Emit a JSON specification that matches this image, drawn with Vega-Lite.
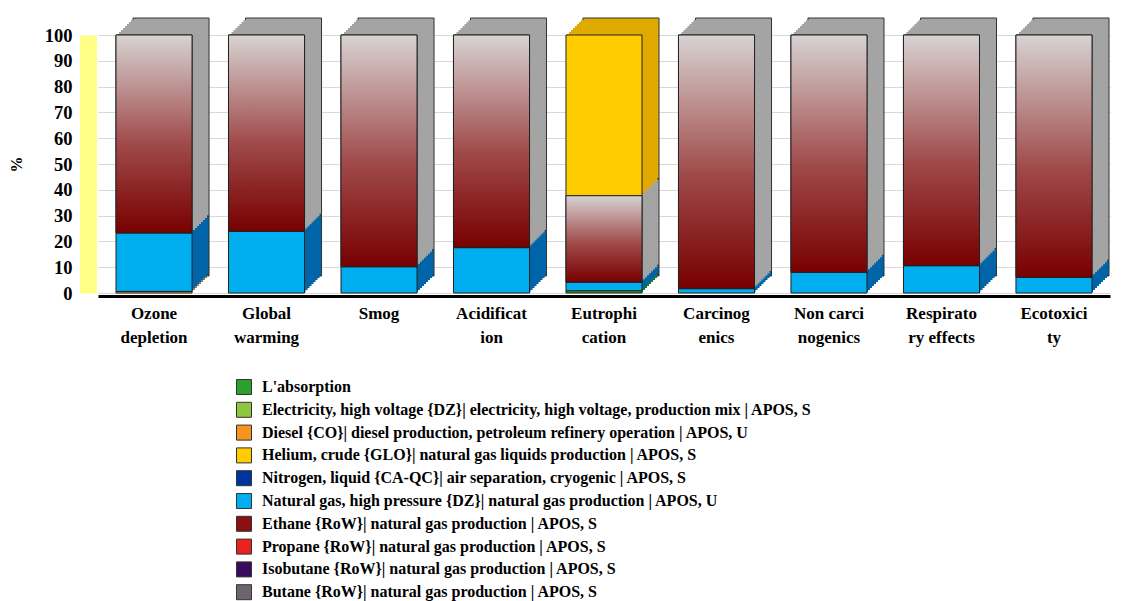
{
  "$schema": "https://vega.github.io/schema/vega-lite/v6.json",
  "autosize": "none",
  "width": 1012,
  "height": 258,
  "padding": {"left": 98, "top": 35, "right": 25, "bottom": 308},
  "background": "white",
  "config": {
    "font": "Liberation Serif",
    "view": {"stroke": null}
  },
  "data": {
    "values": [
      {"category": "Ozone depletion", "series": "Diesel {CO}| diesel production, petroleum refinery operation | APOS, U", "value": 0.6},
      {"category": "Ozone depletion", "series": "Natural gas, high pressure {DZ}| natural gas production | APOS, U", "value": 22.7},
      {"category": "Ozone depletion", "series": "Ethane {RoW}| natural gas production | APOS, S", "value": 76.7},
      {"category": "Global warming", "series": "Natural gas, high pressure {DZ}| natural gas production | APOS, U", "value": 23.9},
      {"category": "Global warming", "series": "Ethane {RoW}| natural gas production | APOS, S", "value": 76.1},
      {"category": "Smog", "series": "Natural gas, high pressure {DZ}| natural gas production | APOS, U", "value": 10.2},
      {"category": "Smog", "series": "Ethane {RoW}| natural gas production | APOS, S", "value": 89.8},
      {"category": "Acidification", "series": "Natural gas, high pressure {DZ}| natural gas production | APOS, U", "value": 17.6},
      {"category": "Acidification", "series": "Ethane {RoW}| natural gas production | APOS, S", "value": 82.4},
      {"category": "Eutrophication", "series": "L'absorption", "value": 0.9},
      {"category": "Eutrophication", "series": "Natural gas, high pressure {DZ}| natural gas production | APOS, U", "value": 3.3},
      {"category": "Eutrophication", "series": "Ethane {RoW}| natural gas production | APOS, S", "value": 33.5},
      {"category": "Eutrophication", "series": "Helium, crude {GLO}| natural gas liquids production | APOS, S", "value": 62.3},
      {"category": "Carcinogenics", "series": "Natural gas, high pressure {DZ}| natural gas production | APOS, U", "value": 1.7},
      {"category": "Carcinogenics", "series": "Ethane {RoW}| natural gas production | APOS, S", "value": 98.3},
      {"category": "Non carcinogenics", "series": "Natural gas, high pressure {DZ}| natural gas production | APOS, U", "value": 8.0},
      {"category": "Non carcinogenics", "series": "Ethane {RoW}| natural gas production | APOS, S", "value": 92.0},
      {"category": "Respiratory effects", "series": "Natural gas, high pressure {DZ}| natural gas production | APOS, U", "value": 10.6},
      {"category": "Respiratory effects", "series": "Ethane {RoW}| natural gas production | APOS, S", "value": 89.4},
      {"category": "Ecotoxicity", "series": "Natural gas, high pressure {DZ}| natural gas production | APOS, U", "value": 6.1},
      {"category": "Ecotoxicity", "series": "Ethane {RoW}| natural gas production | APOS, S", "value": 93.9}
    ]
  },
  "transform": [
    {"calculate": "indexof(['L\\'absorption','Electricity, high voltage {DZ}| electricity, high voltage, production mix | APOS, S','Diesel {CO}| diesel production, petroleum refinery operation | APOS, U','Nitrogen, liquid {CA-QC}| air separation, cryogenic | APOS, S','Natural gas, high pressure {DZ}| natural gas production | APOS, U','Ethane {RoW}| natural gas production | APOS, S','Propane {RoW}| natural gas production | APOS, S','Isobutane {RoW}| natural gas production | APOS, S','Butane {RoW}| natural gas production | APOS, S','Helium, crude {GLO}| natural gas liquids production | APOS, S'], datum.series)", "as": "stackOrder"},
    {"stack": "value", "groupby": ["category"], "sort": [{"field": "stackOrder", "order": "ascending"}], "as": ["y0", "y1"]}
  ],
  "encoding": {
    "x": {
      "field": "category", "type": "nominal", "sort": null,
      "scale": {"domain": ["Ozone depletion", "Global warming", "Smog", "Acidification", "Eutrophication", "Carcinogenics", "Non carcinogenics", "Respiratory effects", "Ecotoxicity"], "paddingInner": 0.324, "paddingOuter": 0.16},
      "axis": {
        "title": null, "labelAngle": 0, "ticks": false, "tickSize": 0,
        "domainColor": "#000000", "domainWidth": 3, "offset": 3,
        "labelFont": "Liberation Serif", "labelFontWeight": "bold", "labelFontSize": 17, "labelColor": "#000000",
        "labelLineHeight": 24, "labelPadding": 9, "labelBaseline": "top",
        "labelExpr": "datum.value == 'Ozone depletion' ? ['Ozone','depletion'] : datum.value == 'Global warming' ? ['Global','warming'] : datum.value == 'Acidification' ? ['Acidificat','ion'] : datum.value == 'Eutrophication' ? ['Eutrophi','cation'] : datum.value == 'Carcinogenics' ? ['Carcinog','enics'] : datum.value == 'Non carcinogenics' ? ['Non carci','nogenics'] : datum.value == 'Respiratory effects' ? ['Respirato','ry effects'] : datum.value == 'Ecotoxicity' ? ['Ecotoxici','ty'] : datum.value"
      }
    },
    "y": {
      "field": "y0", "type": "quantitative",
      "scale": {"domain": [0, 100], "nice": false},
      "axis": {
        "title": "%", "values": [0, 10, 20, 30, 40, 50, 60, 70, 80, 90, 100],
        "ticks": false, "tickSize": 0, "offset": 10,
        "domainColor": "#ffff88", "domainWidth": 17,
        "gridColor": "#d9d9d9", "grid": true,
        "labelFont": "Liberation Serif", "labelFontWeight": "bold", "labelFontSize": 18.5, "labelColor": "#000000", "labelPadding": 16,
        "titleFont": "Liberation Serif", "titleFontWeight": "bold", "titleFontSize": 16, "titleColor": "#000000", "titlePadding": 20
      }
    },
    "y2": {"field": "y1"}
  },
  "layer": [
    {"mark": {"type": "bar", "xOffset": 17, "yOffset": -17, "y2Offset": -17, "stroke": "#333333", "strokeWidth": 1},
     "encoding": {"fill": {"condition": [
       {"test": "datum.series == 'Ethane {RoW}| natural gas production | APOS, S'", "value": "#a4a4a4"},
       {"test": "datum.series == 'Natural gas, high pressure {DZ}| natural gas production | APOS, U'", "value": "#0065a8"},
       {"test": "datum.series == 'Helium, crude {GLO}| natural gas liquids production | APOS, S'", "value": "#e0aa00"},
       {"test": "datum.series == 'L\\'absorption'", "value": "#1e7a1e"},
       {"test": "datum.series == 'Diesel {CO}| diesel production, petroleum refinery operation | APOS, U'", "value": "#c07010"}
     ], "value": "#808080"}}},
    {"mark": {"type": "bar", "xOffset": 15, "yOffset": -15, "y2Offset": -15, "strokeWidth": 0},
     "encoding": {"fill": {"condition": [
       {"test": "datum.series == 'Ethane {RoW}| natural gas production | APOS, S'", "value": "#a4a4a4"},
       {"test": "datum.series == 'Natural gas, high pressure {DZ}| natural gas production | APOS, U'", "value": "#0065a8"},
       {"test": "datum.series == 'Helium, crude {GLO}| natural gas liquids production | APOS, S'", "value": "#e0aa00"},
       {"test": "datum.series == 'L\\'absorption'", "value": "#1e7a1e"},
       {"test": "datum.series == 'Diesel {CO}| diesel production, petroleum refinery operation | APOS, U'", "value": "#c07010"}
     ], "value": "#808080"}}},
    {"mark": {"type": "bar", "xOffset": 13, "yOffset": -13, "y2Offset": -13, "strokeWidth": 0},
     "encoding": {"fill": {"condition": [
       {"test": "datum.series == 'Ethane {RoW}| natural gas production | APOS, S'", "value": "#a4a4a4"},
       {"test": "datum.series == 'Natural gas, high pressure {DZ}| natural gas production | APOS, U'", "value": "#0065a8"},
       {"test": "datum.series == 'Helium, crude {GLO}| natural gas liquids production | APOS, S'", "value": "#e0aa00"},
       {"test": "datum.series == 'L\\'absorption'", "value": "#1e7a1e"},
       {"test": "datum.series == 'Diesel {CO}| diesel production, petroleum refinery operation | APOS, U'", "value": "#c07010"}
     ], "value": "#808080"}}},
    {"mark": {"type": "bar", "xOffset": 11, "yOffset": -11, "y2Offset": -11, "strokeWidth": 0},
     "encoding": {"fill": {"condition": [
       {"test": "datum.series == 'Ethane {RoW}| natural gas production | APOS, S'", "value": "#a4a4a4"},
       {"test": "datum.series == 'Natural gas, high pressure {DZ}| natural gas production | APOS, U'", "value": "#0065a8"},
       {"test": "datum.series == 'Helium, crude {GLO}| natural gas liquids production | APOS, S'", "value": "#e0aa00"},
       {"test": "datum.series == 'L\\'absorption'", "value": "#1e7a1e"},
       {"test": "datum.series == 'Diesel {CO}| diesel production, petroleum refinery operation | APOS, U'", "value": "#c07010"}
     ], "value": "#808080"}}},
    {"mark": {"type": "bar", "xOffset": 9, "yOffset": -9, "y2Offset": -9, "strokeWidth": 0},
     "encoding": {"fill": {"condition": [
       {"test": "datum.series == 'Ethane {RoW}| natural gas production | APOS, S'", "value": "#a4a4a4"},
       {"test": "datum.series == 'Natural gas, high pressure {DZ}| natural gas production | APOS, U'", "value": "#0065a8"},
       {"test": "datum.series == 'Helium, crude {GLO}| natural gas liquids production | APOS, S'", "value": "#e0aa00"},
       {"test": "datum.series == 'L\\'absorption'", "value": "#1e7a1e"},
       {"test": "datum.series == 'Diesel {CO}| diesel production, petroleum refinery operation | APOS, U'", "value": "#c07010"}
     ], "value": "#808080"}}},
    {"mark": {"type": "bar", "xOffset": 7, "yOffset": -7, "y2Offset": -7, "strokeWidth": 0},
     "encoding": {"fill": {"condition": [
       {"test": "datum.series == 'Ethane {RoW}| natural gas production | APOS, S'", "value": "#a4a4a4"},
       {"test": "datum.series == 'Natural gas, high pressure {DZ}| natural gas production | APOS, U'", "value": "#0065a8"},
       {"test": "datum.series == 'Helium, crude {GLO}| natural gas liquids production | APOS, S'", "value": "#e0aa00"},
       {"test": "datum.series == 'L\\'absorption'", "value": "#1e7a1e"},
       {"test": "datum.series == 'Diesel {CO}| diesel production, petroleum refinery operation | APOS, U'", "value": "#c07010"}
     ], "value": "#808080"}}},
    {"mark": {"type": "bar", "xOffset": 5, "yOffset": -5, "y2Offset": -5, "strokeWidth": 0},
     "encoding": {"fill": {"condition": [
       {"test": "datum.series == 'Ethane {RoW}| natural gas production | APOS, S'", "value": "#a4a4a4"},
       {"test": "datum.series == 'Natural gas, high pressure {DZ}| natural gas production | APOS, U'", "value": "#0065a8"},
       {"test": "datum.series == 'Helium, crude {GLO}| natural gas liquids production | APOS, S'", "value": "#e0aa00"},
       {"test": "datum.series == 'L\\'absorption'", "value": "#1e7a1e"},
       {"test": "datum.series == 'Diesel {CO}| diesel production, petroleum refinery operation | APOS, U'", "value": "#c07010"}
     ], "value": "#808080"}}},
    {"mark": {"type": "bar", "xOffset": 3, "yOffset": -3, "y2Offset": -3, "strokeWidth": 0},
     "encoding": {"fill": {"condition": [
       {"test": "datum.series == 'Ethane {RoW}| natural gas production | APOS, S'", "value": "#a4a4a4"},
       {"test": "datum.series == 'Natural gas, high pressure {DZ}| natural gas production | APOS, U'", "value": "#0065a8"},
       {"test": "datum.series == 'Helium, crude {GLO}| natural gas liquids production | APOS, S'", "value": "#e0aa00"},
       {"test": "datum.series == 'L\\'absorption'", "value": "#1e7a1e"},
       {"test": "datum.series == 'Diesel {CO}| diesel production, petroleum refinery operation | APOS, U'", "value": "#c07010"}
     ], "value": "#808080"}}},
    {"mark": {"type": "bar", "xOffset": 1, "yOffset": -1, "y2Offset": -1, "strokeWidth": 0},
     "encoding": {"fill": {"condition": [
       {"test": "datum.series == 'Ethane {RoW}| natural gas production | APOS, S'", "value": "#a4a4a4"},
       {"test": "datum.series == 'Natural gas, high pressure {DZ}| natural gas production | APOS, U'", "value": "#0065a8"},
       {"test": "datum.series == 'Helium, crude {GLO}| natural gas liquids production | APOS, S'", "value": "#e0aa00"},
       {"test": "datum.series == 'L\\'absorption'", "value": "#1e7a1e"},
       {"test": "datum.series == 'Diesel {CO}| diesel production, petroleum refinery operation | APOS, U'", "value": "#c07010"}
     ], "value": "#808080"}}},
    {"mark": {"type": "bar", "stroke": "#222222", "strokeWidth": 1},
     "encoding": {"color": {"field": "series", "type": "nominal",
       "scale": {"domain": ["L'absorption", "Electricity, high voltage {DZ}| electricity, high voltage, production mix | APOS, S", "Diesel {CO}| diesel production, petroleum refinery operation | APOS, U", "Helium, crude {GLO}| natural gas liquids production | APOS, S", "Nitrogen, liquid {CA-QC}| air separation, cryogenic | APOS, S", "Natural gas, high pressure {DZ}| natural gas production | APOS, U", "Ethane {RoW}| natural gas production | APOS, S", "Propane {RoW}| natural gas production | APOS, S", "Isobutane {RoW}| natural gas production | APOS, S", "Butane {RoW}| natural gas production | APOS, S"],
         "range": ["#2ca02c", "#8dc63f", "#f7941d", "#ffcc00", "#0033a0", "#00aeef", "#8b1010", "#e8231f", "#3b0a5e", "#6e6370"]},
       "legend": {
         "title": null, "orient": "none", "legendX": 138, "legendY": 344, "padding": 0,
         "symbolType": "square", "symbolSize": 225, "symbolStrokeColor": "#333333", "symbolStrokeWidth": 1, "symbolOpacity": 1,
         "labelFont": "Liberation Serif", "labelFontWeight": "bold", "labelFontSize": 16, "labelColor": "#000000",
         "labelLimit": 800, "labelOffset": 10, "rowPadding": 2.8
       }}}},
    {"transform": [{"filter": "datum.series == 'Ethane {RoW}| natural gas production | APOS, S'"}],
     "mark": {"type": "bar", "stroke": "#222222", "strokeWidth": 1,
       "fill": {"gradient": "linear", "x1": 0, "y1": 1, "x2": 0, "y2": 0,
         "stops": [{"offset": 0, "color": "#780000"}, {"offset": 0.45, "color": "#a04a4a"}, {"offset": 1, "color": "#d8d3d3"}]}}}
  ]
}
